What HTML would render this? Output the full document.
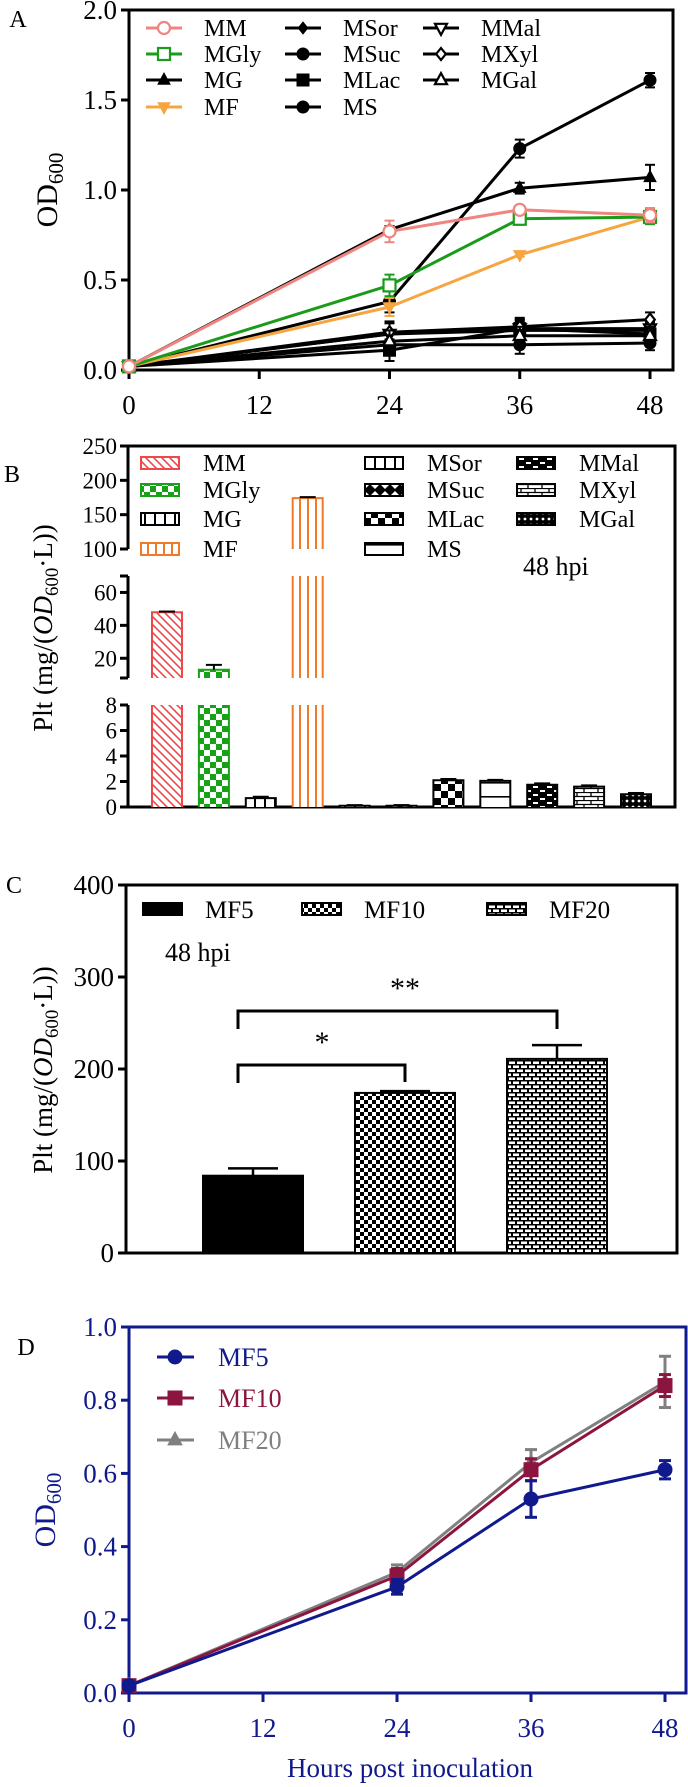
<!DOCTYPE html>
<html><head><meta charset="utf-8"><style>
html,body{margin:0;padding:0;background:#fff}
svg{display:block}
svg text{font-family:"Liberation Serif","Times New Roman",serif}
</style></head><body>
<svg id="fig" xmlns="http://www.w3.org/2000/svg" width="688" height="1787" viewBox="0 0 688 1787" font-family="Liberation Serif, serif">
<defs>
<pattern id="pMM" patternUnits="userSpaceOnUse" width="8" height="8"><rect width="8" height="8" fill="#fff"/><path d="M-2,-2 L10,10 M-2,6 L2,10 M6,-2 L10,2" stroke="#f04848" stroke-width="1.6"/></pattern>
<pattern id="pGly" patternUnits="userSpaceOnUse" width="12" height="12"><rect width="12" height="12" fill="#fff"/><rect width="6" height="6" fill="#17a117"/><rect x="6" y="6" width="6" height="6" fill="#17a117"/></pattern>
<pattern id="pMG" patternUnits="userSpaceOnUse" width="10" height="10"><rect width="10" height="10" fill="#fff"/><rect x="4" width="2" height="10" fill="#000"/></pattern>
<pattern id="pMF" patternUnits="userSpaceOnUse" width="8" height="10"><rect width="8" height="10" fill="#fff"/><rect x="3" width="2" height="10" fill="#f07a28"/></pattern>
<pattern id="pSuc" patternUnits="userSpaceOnUse" width="10" height="10"><rect width="10" height="10" fill="#000"/><path d="M5,1 L9,5 L5,9 L1,5Z" fill="#fff"/></pattern>
<pattern id="pLac" patternUnits="userSpaceOnUse" width="14" height="14"><rect width="14" height="14" fill="#fff"/><rect width="7" height="7" fill="#000"/><rect x="7" y="7" width="7" height="7" fill="#000"/></pattern>
<pattern id="pMS" patternUnits="userSpaceOnUse" width="6" height="6"><rect width="6" height="6" fill="#000"/><circle cx="3" cy="3" r="1.4" fill="#fff"/></pattern>
<pattern id="pMal" patternUnits="userSpaceOnUse" width="14" height="8"><rect width="14" height="8" fill="#000"/><rect x="1" y="2" width="5" height="2" fill="#fff"/><rect x="8" y="6" width="5" height="2" fill="#fff"/></pattern>
<pattern id="pXyl" patternUnits="userSpaceOnUse" width="14" height="8"><rect width="14" height="8" fill="#fff"/><path d="M0,0.5 H14 M0,4.5 H14 M3,0 V4 M10,4 V8" stroke="#000" stroke-width="1.3"/></pattern>
<pattern id="pGal" patternUnits="userSpaceOnUse" width="10" height="14"><rect width="10" height="14" fill="#fff"/><rect y="12" width="10" height="1.6" fill="#000"/></pattern>
<pattern id="pC10" patternUnits="userSpaceOnUse" width="8" height="8"><rect width="8" height="8" fill="#fff"/><rect width="4" height="4" fill="#000"/><rect x="4" y="4" width="4" height="4" fill="#000"/></pattern>
<pattern id="pC20" patternUnits="userSpaceOnUse" width="16" height="8"><rect width="16" height="8" fill="#000"/><rect x="1" y="1.5" width="6" height="2.5" fill="#fff"/><rect x="9" y="1.5" width="6" height="2.5" fill="#fff"/><rect x="-3" y="5.5" width="6" height="2.5" fill="#fff"/><rect x="5" y="5.5" width="6" height="2.5" fill="#fff"/><rect x="13" y="5.5" width="6" height="2.5" fill="#fff"/></pattern>
</defs>
</svg>
<script>
// ---------- Panel A data ----------
const hoursA = [0, 24, 36, 48];
const tickXA = [0, 12, 24, 36, 48];
const tickYA = [0, 0.5, 1.0, 1.5, 2.0];
const namesA = ['MM','MGly','MG','MF','MSor','MSuc','MLac','MS','MMal','MXyl','MGal'];
const valMM   = [0.02, 0.77, 0.89, 0.86];
const valMGly = [0.02, 0.47, 0.84, 0.85];
const valMG   = [0.02, 0.78, 1.01, 1.07];
const valMF   = [0.02, 0.35, 0.64, 0.85];
const valMSor = [0.02, 0.20, 0.22, 0.22];
const valMSuc = [0.02, 0.38, 1.23, 1.61];
const valMLac = [0.02, 0.11, 0.23, 0.20];
const valMS   = [0.02, 0.14, 0.14, 0.15];
const valMMal = [0.02, 0.20, 0.23, 0.23];
const valMXyl = [0.02, 0.21, 0.24, 0.28];
const valMGal = [0.02, 0.16, 0.19, 0.19];
const errMM   = [0.01, 0.06, 0.02, 0.04];
const errMGly = [0.01, 0.06, 0.02, 0.04];
const errMG   = [0.01, 0.02, 0.03, 0.07];
const errMF   = [0.01, 0.05, 0.01, 0.02];
const errLow  = [0.01, 0.06, 0.05, 0.04];
// ---------- Panel B data ----------
const namesB = ['MM','MGly','MG','MF','MSor','MSuc','MLac','MS','MMal','MXyl','MGal'];
const valB = [48, 13, 0.7, 174, 0.1, 0.1, 2.1, 2.05, 1.75, 1.6, 1.0];
const errB = [0.4, 3, 0.1, 1.5, 0.05, 0.05, 0.1, 0.08, 0.1, 0.1, 0.1];
const ticksBtop = [100, 150, 200, 250];
const ticksBmid = [20, 40, 60];
const ticksBbot = [0, 2, 4, 6, 8];
// ---------- Panel C data ----------
const namesC = ['MF5','MF10','MF20'];
const valC = [84, 174, 211];
const errC = [8, 2, 15];
const ticksC = [0, 100, 200, 300, 400];
// ---------- Panel D data ----------
const hoursD = [0, 24, 36, 48];
const valMF5  = [0.02, 0.29, 0.53, 0.61];
const valMF10 = [0.02, 0.32, 0.61, 0.84];
const valMF20 = [0.02, 0.33, 0.63, 0.85];
const errMF5  = [0.01, 0.02, 0.05, 0.025];
const errMF10 = [0.01, 0.02, 0.03, 0.03];
const errMF20 = [0.01, 0.02, 0.035, 0.07];
const tickXD = [0, 12, 24, 36, 48];
const tickYD = [0, 0.2, 0.4, 0.6, 0.8, 1.0];

const NS = 'http://www.w3.org/2000/svg';
const FONT = '"Liberation Serif", serif';
const svg = document.getElementById('fig');
function el(tag, attrs, parent) {
  const e = document.createElementNS(NS, tag);
  for (const k in attrs) e.setAttribute(k, attrs[k]);
  (parent || svg).appendChild(e);
  return e;
}
function txt(x, y, s, size, anchor, fill, name, parent) {
  const t = el('text', {x: x, y: y, 'font-size': size, 'text-anchor': anchor, fill: fill}, parent);
  t.style.fontFamily = FONT;
  t.textContent = s;
  
  
  return t;
}
function line(x1, y1, x2, y2, stroke, w, name, parent) {
  const l = el('line', {x1: x1, y1: y1, x2: x2, y2: y2, stroke: stroke, 'stroke-width': w}, parent);
  
  
  return l;
}
function marker(g, type, cx, cy, color, r) {
  let m;
  if (type === 'circle' || type === 'ocircle') m = el('circle', {cx: cx, cy: cy, r: r}, g);
  else if (type === 'square' || type === 'osquare') m = el('rect', {x: cx - r, y: cy - r, width: 2 * r, height: 2 * r}, g);
  else if (type === 'tri' || type === 'otri') m = el('path', {d: `M${cx},${cy - r * 1.15} L${cx + r},${cy + r * 0.7} L${cx - r},${cy + r * 0.7}Z`}, g);
  else if (type === 'dtri' || type === 'odtri') m = el('path', {d: `M${cx},${cy + r * 1.15} L${cx + r},${cy - r * 0.7} L${cx - r},${cy - r * 0.7}Z`}, g);
  else m = el('path', {d: `M${cx},${cy - r} L${cx + r * 0.8},${cy} L${cx},${cy + r} L${cx - r * 0.8},${cy}Z`}, g);
  const open = type.charAt(0) === 'o';
  m.setAttribute('fill', open ? '#fff' : color);
  m.setAttribute('stroke', color);
  m.setAttribute('stroke-width', open ? 2.2 : 1);
  
  
}
function sub(t, base, subs) {
  const a = el('tspan', {}, t); a.textContent = base;
  const b = el('tspan', {'font-size': '0.7em', dy: 6}, t); b.textContent = subs;
}
function pltTitle(t) {
  const a = el('tspan', {}, t); a.textContent = 'Plt (mg/(';
  const b = el('tspan', {'font-style': 'italic'}, t); b.textContent = 'OD';
  const c = el('tspan', {'font-size': '0.7em', dy: 6}, t); c.textContent = '600';
  const d = el('tspan', {dy: -6}, t); d.textContent = '·L))';
}

// ================= PANEL A =================
const gA = el('g', {});


const xA = h => 129 + h * (650 - 129) / 48;
const yA = v => 370 - v * 180;
txt(18, 27, 'A', 24, 'middle', '#000', 'panel-a-label', gA);
const boxA = el('rect', {x: 129, y: 10, width: 544, height: 360, fill: 'none', stroke: '#000', 'stroke-width': 3}, gA);


tickXA.forEach(t => {
  line(xA(t), 370, xA(t), 379, '#000', 3, 'x-tick', gA);
  txt(xA(t), 414, String(t), 27, 'middle', '#000', 'x-tick-label', gA);
});
tickYA.forEach(t => {
  line(121, yA(t), 129, yA(t), '#000', 3, 'y-tick', gA);
  txt(117, yA(t) + 9, t.toFixed(1), 27, 'end', '#000', 'y-tick-label', gA);
});
const tA = txt(0, 0, '', 30, 'middle', '#000', 'y-axis-title', gA);
tA.setAttribute('transform', 'translate(57,190) rotate(-90)');
sub(tA, 'OD', '600');
const seriesA = [
  {n: namesA[0], v: valMM, e: errMM, c: '#f0857f', m: 'ocircle'},
  {n: namesA[1], v: valMGly, e: errMGly, c: '#1a9c1a', m: 'osquare'},
  {n: namesA[2], v: valMG, e: errMG, c: '#000', m: 'tri'},
  {n: namesA[3], v: valMF, e: errMF, c: '#f7a540', m: 'dtri'},
  {n: namesA[4], v: valMSor, e: errLow, c: '#000', m: 'diamond'},
  {n: namesA[5], v: valMSuc, e: errLow, c: '#000', m: 'circle'},
  {n: namesA[6], v: valMLac, e: errLow, c: '#000', m: 'square'},
  {n: namesA[7], v: valMS, e: errLow, c: '#000', m: 'circle'},
  {n: namesA[8], v: valMMal, e: errLow, c: '#000', m: 'odtri'},
  {n: namesA[9], v: valMXyl, e: errLow, c: '#000', m: 'odiamond'},
  {n: namesA[10], v: valMGal, e: errLow, c: '#000', m: 'otri'}
];
const drawOrder = [4, 5, 6, 7, 8, 9, 10, 2, 3, 1, 0];
drawOrder.forEach(i => {
  const s = seriesA[i];
  const g = el('g', {}, gA);
  
  
  const pts = hoursA.map((h, k) => xA(h) + ',' + yA(s.v[k])).join(' ');
  const pl = el('polyline', {points: pts, fill: 'none', stroke: s.c, 'stroke-width': 3}, g);
  
  
  hoursA.forEach((h, k) => {
    const x = xA(h), y1 = yA(s.v[k] + s.e[k]), y2 = yA(s.v[k] - s.e[k]);
    line(x, y1, x, y2, s.c, 2, 'error-bar', g);
    line(x - 5, y1, x + 5, y1, s.c, 2, 'error-cap', g);
    line(x - 5, y2, x + 5, y2, s.c, 2, 'error-cap', g);
    marker(g, s.m, x, yA(s.v[k]), s.c, 6);
  });
});
const legA = el('g', {}, gA);


const legPosA = [[146, 28], [146, 54], [146, 80], [146, 107], [285, 28], [285, 54], [285, 80], [285, 107], [423, 28], [423, 54], [423, 80]];
seriesA.forEach((s, i) => {
  const [lx, ly] = legPosA[i];
  const g = el('g', {}, legA);
  
  
  line(lx, ly, lx + 36, ly, s.c, 3, 'legend-line', g);
  marker(g, s.m, lx + 18, ly, s.c, 6);
  txt(lx + 58, ly + 8, s.n, 24, 'start', '#000', 'legend-label', g);
});

// ================= PANEL B =================
const gB = el('g', {});


txt(12, 482, 'B', 24, 'middle', '#000', 'panel-b-label', gB);
const segs = [
  {lo: 0, hi: 8, y0: 807, y1: 705},
  {lo: 8, hi: 70, y0: 678, y1: 576},
  {lo: 100, hi: 250, y0: 549, y1: 446}
];
const segY = (s, v) => s.y0 - (v - s.lo) * (s.y0 - s.y1) / (s.hi - s.lo);
const yB = v => { for (const s of segs) if (v <= s.hi) return segY(s, Math.max(v, s.lo)); return segs[2].y1; };
const fr = el('path', {d: 'M128,446 H675 V807 H128', fill: 'none', stroke: '#000', 'stroke-width': 3}, gB);


segs.forEach(s => {
  line(128, s.y0, 128, s.y1, '#000', 3, 'y-axis-segment', gB);
  line(120, s.y1, 128, s.y1, '#000', 3, 'y-axis-break-cap', gB);
  if (s.lo > 0) line(120, s.y0, 128, s.y0, '#000', 3, 'y-axis-break-cap', gB);
});
ticksBtop.concat(ticksBmid, ticksBbot).forEach(t => {
  const y = yB(t);
  line(120, y, 128, y, '#000', 3, 'y-tick', gB);
  txt(117, y + 8, String(t), 23, 'end', '#000', 'y-tick-label', gB);
});
const tB = txt(0, 0, '', 27, 'middle', '#000', 'y-axis-title', gB);
tB.setAttribute('transform', 'translate(52,628) rotate(-90)');
pltTitle(tB);
const fillsB = ['url(#pMM)', 'url(#pGly)', 'url(#pMG)', 'url(#pMF)', 'url(#pMG)', 'url(#pSuc)', 'url(#pLac)', 'url(#pGal)', 'url(#pMal)', 'url(#pXyl)', 'url(#pMS)'];
const strokeB = ['#f04848', '#17a117', '#000', '#f07a28', '#000', '#000', '#000', '#000', '#000', '#000', '#000'];
const xB = i => 167 + i * 46.9;
valB.forEach((v, i) => {
  const g = el('g', {}, gB);
  
  
  segs.forEach(s => {
    if (v > s.lo) {
      const top = segY(s, Math.min(v, s.hi));
      const r = el('rect', {x: xB(i) - 15, y: top, width: 30, height: s.y0 - top, fill: fillsB[i], stroke: 'none'}, g);
      
      
      const sides = el('path', {d: `M${xB(i) - 15},${s.y0} V${top}` + (v <= s.hi ? ` H${xB(i) + 15}` : ` M${xB(i) + 15},${top}`) + ` V${s.y0}`, fill: 'none', stroke: strokeB[i], 'stroke-width': 2}, g);
      
      
    }
  });
  const ey = yB(v + errB[i]);
  line(xB(i), yB(v), xB(i), ey, '#000', 2, 'error-bar', g);
  line(xB(i) - 8, ey, xB(i) + 8, ey, '#000', 2, 'error-cap', g);
});
const legB = el('g', {}, gB);


const legPosB = [[141, 463], [141, 490], [141, 519], [141, 549], [365, 463], [365, 490], [365, 519], [365, 549], [517, 463], [517, 490], [517, 519]];
namesB.forEach((n, i) => {
  const [lx, ly] = legPosB[i];
  const g = el('g', {}, legB);
  
  
  const r = el('rect', {x: lx, y: ly - 6, width: 38, height: 12, fill: fillsB[i], stroke: strokeB[i], 'stroke-width': 2}, g);
  
  
  txt(lx + 62, ly + 8, n, 24, 'start', '#000', 'legend-label', g);
});
txt(523, 575, '48 hpi', 26, 'start', '#000', 'time-annotation', gB);

// ================= PANEL C =================
const gC = el('g', {});


txt(14, 893, 'C', 24, 'middle', '#000', 'panel-c-label', gC);
const yC = v => 1253 - v * (1253 - 885) / 400;
const frC = el('rect', {x: 126, y: 885, width: 551, height: 368, fill: 'none', stroke: '#000', 'stroke-width': 3}, gC);


ticksC.forEach(t => {
  line(118, yC(t), 126, yC(t), '#000', 3, 'y-tick', gC);
  txt(114, yC(t) + 9, String(t), 27, 'end', '#000', 'y-tick-label', gC);
});
const tC = txt(0, 0, '', 27, 'middle', '#000', 'y-axis-title', gC);
tC.setAttribute('transform', 'translate(52,1070) rotate(-90)');
pltTitle(tC);
const fillsC = ['#000', 'url(#pC10)', 'url(#pC20)'];
const xC = i => 253 + i * 152;
valC.forEach((v, i) => {
  const g = el('g', {}, gC);
  
  
  const r = el('rect', {x: xC(i) - 50, y: yC(v), width: 100, height: 1253 - yC(v), fill: fillsC[i], stroke: '#000', 'stroke-width': 2}, g);
  
  
  const ey = yC(v + errC[i]);
  line(xC(i), yC(v), xC(i), ey, '#000', 2.5, 'error-bar', g);
  line(xC(i) - 25, ey, xC(i) + 25, ey, '#000', 2.5, 'error-cap', g);
});
const br1 = el('path', {d: 'M238,1083 V1065 H405 V1082', fill: 'none', stroke: '#000', 'stroke-width': 3}, gC);


txt(322, 1052, '*', 30, 'middle', '#000', 'significance-star', gC);
const br2 = el('path', {d: 'M238,1029 V1011 H557 V1029', fill: 'none', stroke: '#000', 'stroke-width': 3}, gC);


txt(405, 998, '**', 30, 'middle', '#000', 'significance-stars', gC);
const legPosC = [[143, 205], [302, 364], [487, 549]];
namesC.forEach((n, i) => {
  const g = el('g', {}, gC);
  
  
  const r = el('rect', {x: legPosC[i][0], y: 903, width: 39, height: 12, fill: fillsC[i], stroke: '#000', 'stroke-width': 2}, g);
  
  
  txt(legPosC[i][1], 918, n, 25, 'start', '#000', 'legend-label', g);
});
txt(165, 961, '48 hpi', 26, 'start', '#000', 'time-annotation', gC);

// ================= PANEL D =================
const NAVY = '#101a8c';
const gD = el('g', {});


txt(26, 1355, 'D', 24, 'middle', '#000', 'panel-d-label', gD);
const xD = h => 129 + h * (665 - 129) / 48;
const yD = v => 1693 - v * (1693 - 1327);
const frD = el('rect', {x: 129, y: 1327, width: 557, height: 366, fill: 'none', stroke: NAVY, 'stroke-width': 3}, gD);


tickXD.forEach(t => {
  line(xD(t), 1693, xD(t), 1702, NAVY, 3, 'x-tick', gD);
  txt(xD(t), 1737, String(t), 27, 'middle', NAVY, 'x-tick-label', gD);
});
tickYD.forEach(t => {
  line(121, yD(t), 129, yD(t), NAVY, 3, 'y-tick', gD);
  txt(117, yD(t) + 9, t.toFixed(1), 27, 'end', NAVY, 'y-tick-label', gD);
});
txt(410, 1777, 'Hours post inoculation', 27, 'middle', NAVY, 'x-axis-title', gD);
const tD = txt(0, 0, '', 30, 'middle', NAVY, 'y-axis-title', gD);
tD.setAttribute('transform', 'translate(55,1510) rotate(-90)');
sub(tD, 'OD', '600');
const seriesD = [
  {n: 'MF20', v: valMF20, e: errMF20, c: '#808080', m: 'tri'},
  {n: 'MF10', v: valMF10, e: errMF10, c: '#8c1540', m: 'square'},
  {n: 'MF5', v: valMF5, e: errMF5, c: NAVY, m: 'circle'}
];
seriesD.forEach(s => {
  const g = el('g', {}, gD);
  
  
  const pts = hoursD.map((h, k) => xD(h) + ',' + yD(s.v[k])).join(' ');
  const pl = el('polyline', {points: pts, fill: 'none', stroke: s.c, 'stroke-width': 3}, g);
  
  
  hoursD.forEach((h, k) => {
    const x = xD(h), y1 = yD(s.v[k] + s.e[k]), y2 = yD(s.v[k] - s.e[k]);
    line(x, y1, x, y2, s.c, 3, 'error-bar', g);
    line(x - 6, y1, x + 6, y1, s.c, 3, 'error-cap', g);
    line(x - 6, y2, x + 6, y2, s.c, 3, 'error-cap', g);
    marker(g, s.m, x, yD(s.v[k]), s.c, 7);
  });
});
const legD = [[seriesD[2], 1357], [seriesD[1], 1398], [seriesD[0], 1440]];
legD.forEach(([s, ly]) => {
  const g = el('g', {}, gD);
  
  
  line(157, ly, 194, ly, s.c, 3, 'legend-line', g);
  marker(g, s.m, 175, ly, s.c, 7);
  txt(218, ly + 9, s.n, 26, 'start', s.c, 'legend-label', g);
});
</script>
</body></html>
